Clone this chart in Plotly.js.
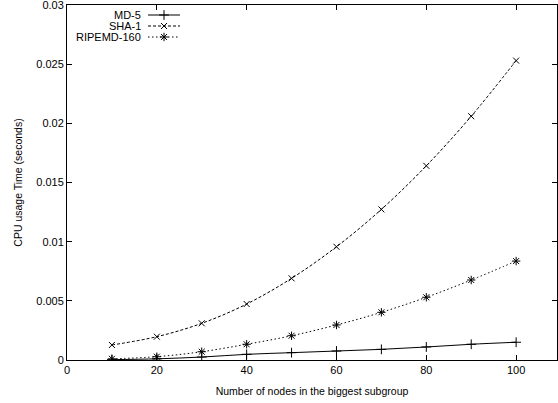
<!DOCTYPE html>
<html>
<head>
<meta charset="utf-8">
<script src="https://cdn.plot.ly/plotly-3.0.1.min.js"></script>
<style>html,body{margin:0;padding:0;background:#fff;}#chart{width:558px;height:403px;}</style>
</head>
<body>
<div id="chart"></div>
<script>
const nodes = [10, 20, 30, 40, 50, 60, 70, 80, 90, 100];
const md5 = [0.00003, 0.0001, 0.00025, 0.00048, 0.00062, 0.00076, 0.0009, 0.0011, 0.00133, 0.0015];
const sha1 = [0.00127, 0.00197, 0.0031, 0.00473, 0.0069, 0.00957, 0.01273, 0.01641, 0.0206, 0.0253];
const ripemd = [0.0001, 0.00028, 0.0007, 0.00133, 0.00205, 0.00296, 0.00403, 0.0053, 0.00676, 0.00836];
const seriesNames = ['MD-5', 'SHA-1', 'RIPEMD-160'];
const xTicks = [0, 20, 40, 60, 80, 100];
const yTicks = [0, 0.005, 0.01, 0.015, 0.02, 0.025, 0.03];
const yTickText = ['0', '0.005', '0.01', '0.015', '0.02', '0.025', '0.03'];

const seriesData = [md5, sha1, ripemd];
const dashes = ['solid', '3px,2px', '1.5px,2.5px'];
const symbols = ['cross-thin-open', 'x-thin-open', 'asterisk-open'];
const sizes = [7, 6, 7];

const traces = [];
seriesData.forEach((vals, i) => {
  traces.push({
    x: nodes, y: vals, type: 'scatter', mode: 'lines+markers', name: seriesNames[i],
    line: {color: '#000', width: 1, dash: dashes[i], shape: 'spline'},
    marker: {symbol: symbols[i], size: sizes[i], color: '#000', line: {color: '#000', width: 1}},
    showlegend: false, hoverinfo: 'skip'
  });
});

// custom gnuplot-style key (text left, sample right)
const keyY = [15, 26, 37];
const annotations = [];
seriesNames.forEach((n, i) => {
  traces.push({
    x: [148, 180], y: [keyY[i], keyY[i]], xaxis: 'x2', yaxis: 'y2', type: 'scatter', mode: 'lines',
    line: {color: '#000', width: 1, dash: dashes[i]}, showlegend: false, hoverinfo: 'skip'
  });
  traces.push({
    x: [164], y: [keyY[i]], xaxis: 'x2', yaxis: 'y2', type: 'scatter', mode: 'markers',
    marker: {symbol: symbols[i], size: sizes[i], color: '#000', line: {color: '#000', width: 1}},
    showlegend: false, hoverinfo: 'skip'
  });
  annotations.push({
    x: 143, y: keyY[i], xref: 'x2', yref: 'y2', text: n, showarrow: false,
    xanchor: 'right', yanchor: 'middle', font: {family: 'Liberation Sans, Arial, sans-serif', size: 11, color: '#000'}
  });
});

const font = {family: 'Liberation Sans, Arial, sans-serif', size: 11, color: '#000'};
const layout = {
  width: 558, height: 403,
  margin: {l: 67, r: 1, t: 5, b: 43, pad: 0},
  paper_bgcolor: '#fff', plot_bgcolor: '#fff',
  font: font,
  showlegend: false,
  xaxis: {
    range: [0, 109.1], tickvals: xTicks, ticktext: xTicks.map(String),
    ticks: 'inside', ticklen: 5, tickwidth: 1, tickcolor: '#000',
    showline: true, linecolor: '#000', linewidth: 1, mirror: 'ticks',
    showgrid: false, zeroline: false, tickfont: font, ticklabeloverflow: 'allow',
    title: {text: 'Number of nodes in the biggest subgroup', font: {family: font.family, size: 10.5, color: '#000'}, standoff: 12}
  },
  yaxis: {
    range: [0, 0.03], tickvals: yTicks, ticktext: yTickText,
    ticks: 'inside', ticklen: 5, tickwidth: 1, tickcolor: '#000',
    showline: true, linecolor: '#000', linewidth: 1, mirror: 'ticks',
    showgrid: false, zeroline: false, tickfont: font, ticklabeloverflow: 'allow',
    title: {text: 'CPU usage Time (seconds)', font: {family: font.family, size: 10.5, color: '#000'}, standoff: 11}
  },
  xaxis2: {overlaying: 'x', range: [67, 557], visible: false, fixedrange: true},
  yaxis2: {overlaying: 'y', range: [360, 5], visible: false, fixedrange: true},
  annotations: annotations
};

Plotly.newPlot('chart', traces, layout, {displayModeBar: false, staticPlot: true});
</script>
</body>
</html>
